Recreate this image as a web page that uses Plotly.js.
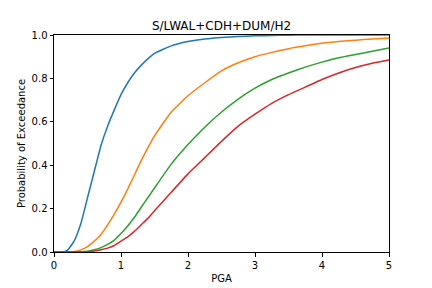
<!DOCTYPE html>
<html>
<head>
<meta charset="utf-8">
<script src="https://cdn.plot.ly/plotly-3.0.1.min.js"></script>
<style>
  html, body { margin: 0; padding: 0; background: #fff; }
  #chart { width: 432px; height: 288px; }
</style>
</head>
<body>
<div id="chart"></div>
<script>
// PGA sample points shared by all fragility curves
const pga = [0, 0.1, 0.2, 0.3, 0.4, 0.5, 0.6, 0.7, 0.8, 0.9, 1.0, 1.1, 1.2, 1.3, 1.4, 1.5,
             1.75, 2.0, 2.25, 2.5, 2.75, 3.0, 3.25, 3.5, 3.75, 4.0, 4.25, 4.5, 4.75, 5.0];

// Probability of exceedance for each damage state
const ds1 = [0, 0, 0.008, 0.05, 0.13, 0.25, 0.37, 0.49, 0.58, 0.655, 0.725, 0.78, 0.825, 0.86, 0.89, 0.915,
             0.95, 0.97, 0.982, 0.989, 0.993, 0.996, 0.998, 0.999, 1.0, 1.0, 1.0, 1.0, 1.0, 1.0];
const ds2 = [0, 0, 0, 0.002, 0.01, 0.025, 0.05, 0.08, 0.125, 0.175, 0.23, 0.29, 0.355, 0.42, 0.48, 0.535,
             0.645, 0.72, 0.78, 0.835, 0.872, 0.9, 0.92, 0.937, 0.95, 0.962, 0.97, 0.976, 0.982, 0.986];
const ds3 = [0, 0, 0, 0, 0.001, 0.004, 0.01, 0.02, 0.035, 0.055, 0.085, 0.12, 0.16, 0.205, 0.25, 0.295,
             0.405, 0.495, 0.575, 0.645, 0.705, 0.755, 0.795, 0.825, 0.852, 0.875, 0.895, 0.91, 0.925, 0.94];
const ds4 = [0, 0, 0, 0, 0, 0.001, 0.004, 0.01, 0.018, 0.03, 0.05, 0.07, 0.095, 0.125, 0.155, 0.19,
             0.275, 0.36, 0.435, 0.51, 0.58, 0.635, 0.685, 0.725, 0.76, 0.795, 0.825, 0.85, 0.87, 0.885];

const seriesValues = [ds1, ds2, ds3, ds4];
const colors = ['#1f77b4', '#ff7f0e', '#2ca02c', '#d62728'];

const xTicks = [0, 1, 2, 3, 4, 5];
const yTicks = [0, 0.2, 0.4, 0.6, 0.8, 1.0];

const traces = seriesValues.map((ys, i) => ({
  x: pga,
  y: ys,
  type: 'scatter',
  mode: 'lines',
  line: { color: colors[i], width: 1.5, shape: 'spline', smoothing: 0.4 },
  hoverinfo: 'skip'
}));

const font = { family: 'DejaVu Sans', size: 10, color: '#000' };

const axisBase = {
  showgrid: false,
  zeroline: false,
  showline: true,
  mirror: true,
  linecolor: '#000',
  linewidth: 1,
  ticks: 'outside',
  ticklen: 3.5,
  tickwidth: 1,
  tickcolor: '#000',
  tickfont: font,
  fixedrange: true
};

const layout = {
  width: 432,
  height: 288,
  margin: { l: 54, r: 43, t: 35, b: 36 },
  paper_bgcolor: '#fff',
  plot_bgcolor: '#fff',
  showlegend: false,
  font: font,
  title: {
    text: 'S/LWAL+CDH+DUM/H2',
    font: { family: 'DejaVu Sans', size: 12, color: '#000' },
    x: 0.5,
    xref: 'paper',
    xanchor: 'center',
    y: 1 - 25.5 / 288,
    yref: 'container',
    yanchor: 'middle'
  },
  xaxis: Object.assign({}, axisBase, {
    range: [0, 5],
    tickvals: xTicks,
    ticktext: xTicks.map(String),
    title: { text: 'PGA', font: font, standoff: 5 }
  }),
  yaxis: Object.assign({}, axisBase, {
    range: [0, 1],
    tickvals: yTicks,
    ticktext: yTicks.map(v => v.toFixed(1)),
    title: { text: 'Probability of Exceedance', font: font, standoff: 4 }
  })
};

Plotly.newPlot('chart', traces, layout, { staticPlot: true, displayModeBar: false });
</script>
</body>
</html>
